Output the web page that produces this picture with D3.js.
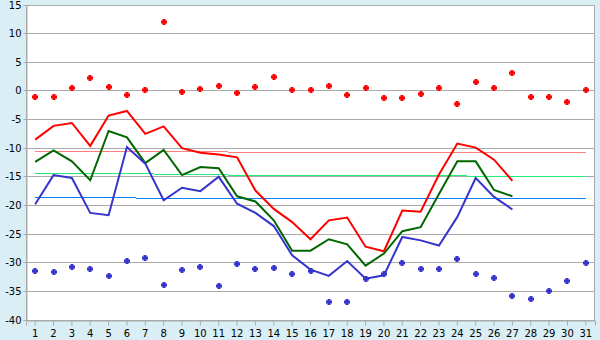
<!DOCTYPE html>
<html>
<head>
<meta charset="utf-8">
<script src="https://cdn.jsdelivr.net/npm/d3@7"></script>
<style>
  body { margin: 0; background: #d9eef5; }
  svg { display: block; }
  text { font-family: "DejaVu Sans", Verdana, sans-serif; font-size: 10px; fill: #000; }
</style>
</head>
<body>
<div id="chart"></div>
<script>
// day of month
const days = [1, 2, 3, 4, 5, 6, 7, 8, 9, 10, 11, 12, 13, 14, 15, 16, 17, 18, 19, 20, 21, 22, 23, 24, 25, 26, 27, 28, 29, 30, 31];
const yTicks = [15, 10, 5, 0, -5, -10, -15, -20, -25, -30, -35, -40];

// daily max / mean / min (null = no data yet)
const maxTemp = [-8.5, -6.1, -5.6, -9.6, -4.3, -3.5, -7.5, -6.2, -10.0, -10.8, -11.1, -11.6, -17.4, -20.6, -22.9, -25.9, -22.6, -22.1, -27.2, -28.0, -20.9, -21.1, -14.6, -9.2, -9.9, -12.0, -15.7, null, null, null, null];
const meanTemp = [-12.4, -10.4, -12.3, -15.6, -7.0, -8.1, -12.6, -10.3, -14.7, -13.3, -13.5, -18.4, -19.3, -22.6, -27.9, -27.9, -25.9, -26.8, -30.5, -28.4, -24.5, -23.8, -18.0, -12.3, -12.3, -17.3, -18.4, null, null, null, null];
const minTemp = [-19.8, -14.7, -15.2, -21.3, -21.7, -9.8, -12.7, -19.1, -16.9, -17.5, -15.0, -19.7, -21.3, -23.6, -28.7, -31.2, -32.3, -29.7, -32.8, -32.2, -25.5, -26.1, -27.0, -22.0, -15.2, -18.5, -20.7, null, null, null, null];

// record values (dots)
const recordMax = [-1.2, -1.2, 0.4, 2.1, 0.6, -0.8, 0, 11.9, -0.3, 0.2, 0.7, -0.5, 0.6, 2.3, 0, 0, 0.7, -0.8, 0.4, -1.4, -1.4, -0.7, 0.4, -2.4, 1.4, 0.4, 3.1, -1.2, -1.2, -2.1, 0];
const recordMin = [-31.6, -31.7, -30.9, -31.2, -32.4, -29.7, -29.3, -34.0, -31.4, -30.9, -34.2, -30.3, -31.2, -31.0, -32.1, -31.6, -37.0, -37.0, -32.9, -32.1, -30.2, -31.2, -31.2, -29.4, -32.1, -32.8, -35.9, -36.5, -35.1, -33.3, -30.2];

// climate normals
const normMax = [-10.55, -10.55, -10.55, -10.55, -10.55, -10.55, -10.55, -10.55, -10.55, -10.55, -10.55, -10.75, -10.75, -10.75, -10.75, -10.75, -10.75, -10.75, -10.75, -10.75, -10.75, -10.75, -10.75, -10.75, -10.75, -10.75, -10.75, -10.75, -10.75, -10.75, -10.75];
const normMean = [-14.45, -14.45, -14.45, -14.45, -14.45, -14.45, -14.45, -14.63, -14.63, -14.63, -14.63, -14.8, -14.8, -14.8, -14.8, -14.8, -14.8, -14.8, -14.8, -14.8, -14.8, -14.8, -14.8, -14.8, -15.0, -15.0, -15.0, -15.0, -15.0, -15.0, -15.0];
const normMin = [-18.65, -18.65, -18.65, -18.65, -18.65, -18.65, -18.82, -18.82, -18.82, -18.82, -18.82, -18.82, -18.82, -18.82, -18.82, -18.82, -18.82, -18.82, -18.82, -18.82, -18.82, -18.82, -18.82, -18.82, -18.82, -18.82, -18.82, -18.82, -18.82, -18.82, -18.82];

const W = 600, H = 340;
const margin = { left: 26, top: 5, right: 5, bottom: 20 };

const svg = d3.select('#chart').append('svg')
  .attr('width', W)
  .attr('height', H);

svg.append('rect').attr('width', W).attr('height', H).attr('fill', '#d9eef5');

const x = d3.scaleBand()
  .domain(days)
  .range([margin.left, W - margin.right])
  .padding(0);

const y = d3.scaleLinear()
  .domain([-40, 15])
  .range([H - margin.bottom, margin.top]);

const cx = d => x(d) + x.bandwidth() / 2;
const py = v => Math.floor(y(v)) + 0.5;   // snap to pixel row

// plot area
svg.append('rect')
  .attr('x', margin.left + 0.5)
  .attr('y', margin.top + 0.5)
  .attr('width', W - margin.left - margin.right - 1)
  .attr('height', H - margin.top - margin.bottom)
  .attr('fill', '#fff')
  .attr('stroke', '#aaa');

// grid lines
svg.append('g')
  .selectAll('line')
  .data(yTicks)
  .join('line')
  .attr('x1', margin.left)
  .attr('x2', W - margin.right)
  .attr('y1', py)
  .attr('y2', py)
  .attr('stroke', '#aaa')
  .attr('shape-rendering', 'crispEdges');

// y axis
const yAxis = svg.append('g')
  .attr('transform', 'translate(' + (margin.left + 0.5) + ',0)')
  .call(d3.axisLeft(y).tickValues(yTicks).tickSize(3).tickPadding(2).tickFormat(d => d < 0 ? '-' + Math.abs(d) : d));
yAxis.selectAll('.tick').attr('transform', d => 'translate(0,' + py(d) + ')');
yAxis.select('.domain').attr('stroke', '#aaa');
yAxis.selectAll('.tick line').attr('stroke', '#aaa');
yAxis.selectAll('text').style('font-size', '10px');

// x axis
const xAxis = svg.append('g')
  .attr('transform', 'translate(0,' + (H - margin.bottom + 0.5) + ')')
  .call(d3.axisBottom(x).tickSize(5).tickPadding(4));
xAxis.select('.domain').attr('stroke', '#aaa');
xAxis.selectAll('.tick line').attr('stroke', '#aaa');
xAxis.selectAll('text').style('font-size', '10px');

// normal lines, one flat piece per day
[[normMax, '#ff7f7f'], [normMean, '#22ee77'], [normMin, '#0a7ff0']].forEach(([vals, col]) => {
  svg.append('g')
    .selectAll('line')
    .data(vals)
    .join('line')
    .attr('x1', (d, i) => i === 0 ? cx(days[i]) : x(days[i]))
    .attr('x2', (d, i) => i === days.length - 1 ? cx(days[i]) : x(days[i]) + x.bandwidth())
    .attr('y1', py)
    .attr('y2', py)
    .attr('stroke', col)
    .attr('stroke-width', 1)
    .attr('shape-rendering', 'crispEdges');
});

// daily lines
const line = d3.line()
  .defined(d => d !== null)
  .x((d, i) => cx(days[i]))
  .y(d => y(d));

[[maxTemp, '#ff0000'], [meanTemp, '#006600'], [minTemp, '#3535cc']].forEach(([vals, col]) => {
  svg.append('path')
    .datum(vals)
    .attr('d', line)
    .attr('fill', 'none')
    .attr('stroke', col)
    .attr('stroke-width', 2);
});

// record dots
const marker = 'M-1.5,-3H1.5V-1.5H3V1.5H1.5V3H-1.5V1.5H-3V-1.5H-1.5Z';

[[recordMax, '#ff0000'], [recordMin, '#3535cc']].forEach(([vals, col]) => {
  svg.append('g')
    .selectAll('path')
    .data(vals)
    .join('path')
    .attr('d', marker)
    .attr('transform', (d, i) => 'translate(' + Math.round(cx(days[i])) + ',' + Math.floor(y(d)) + ')')
    .attr('fill', col);
});
</script>
</body>
</html>
